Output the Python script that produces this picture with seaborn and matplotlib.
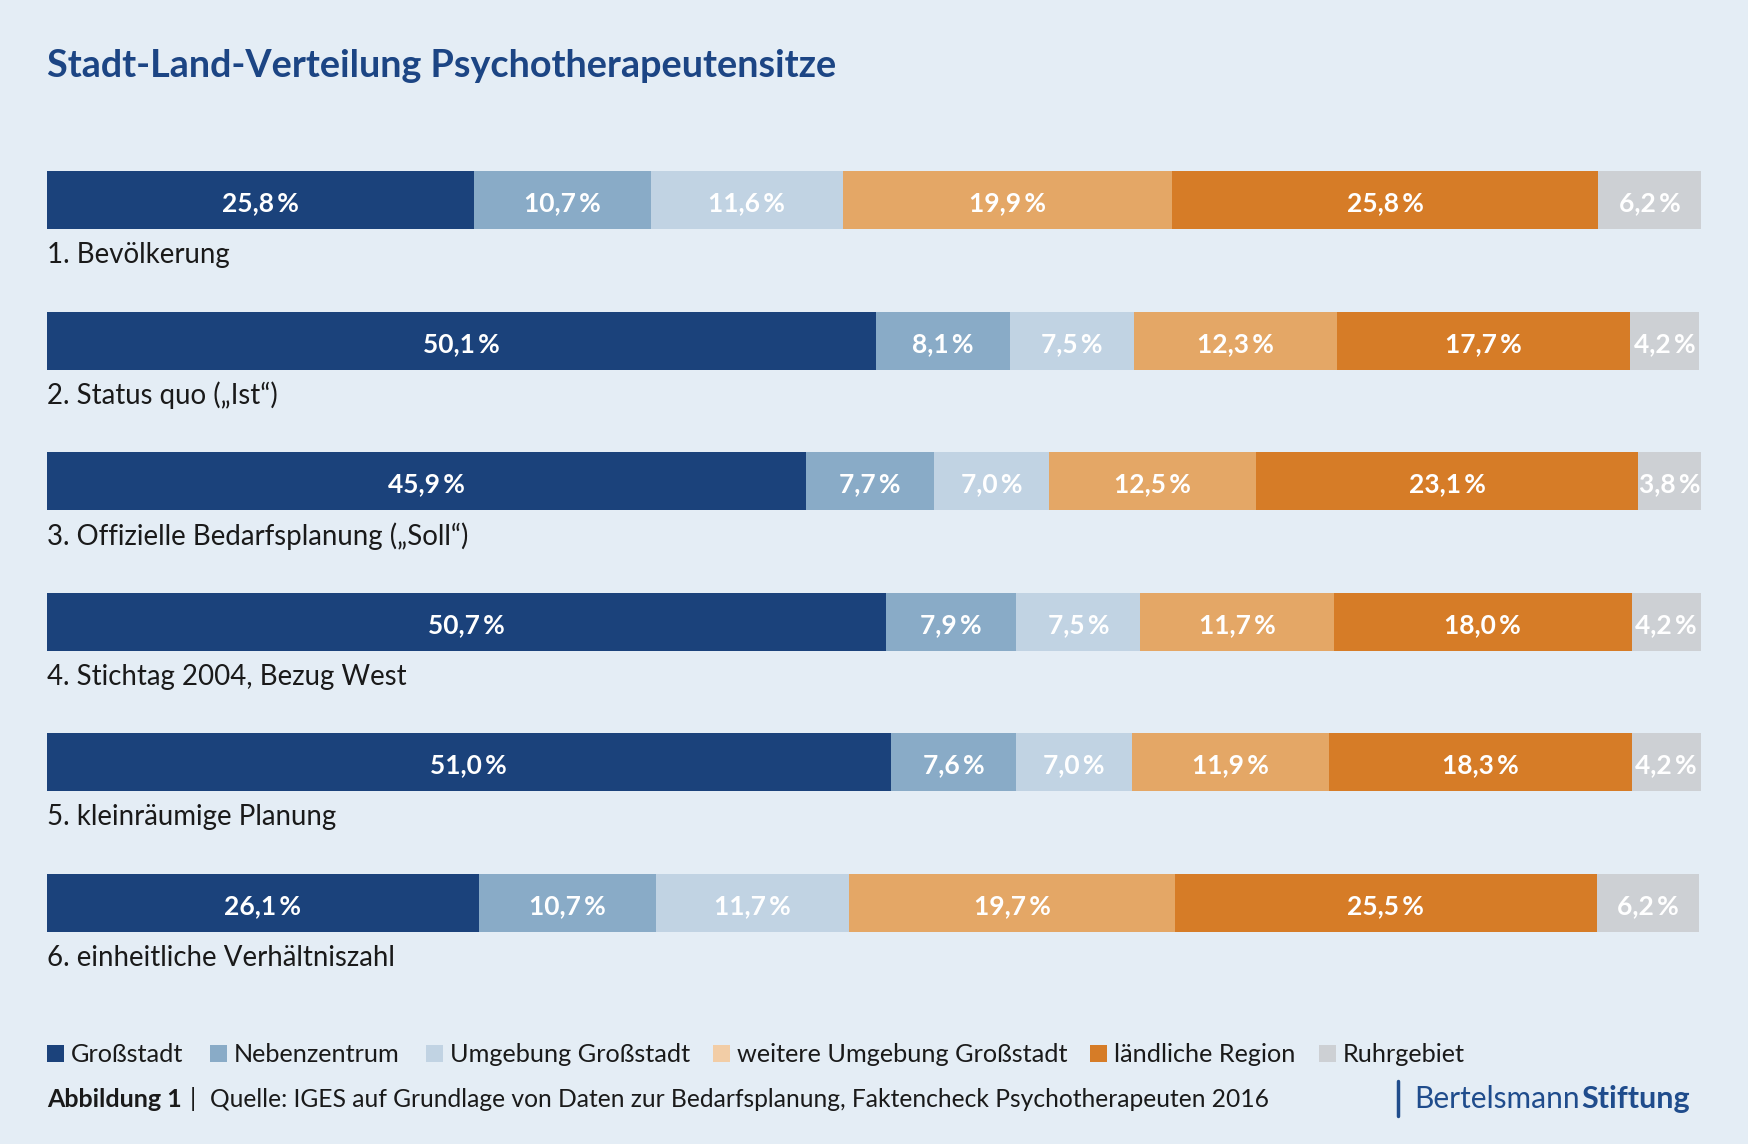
import matplotlib
matplotlib.use("Agg")
import matplotlib.pyplot as plt
from matplotlib.patches import Rectangle
from matplotlib.lines import Line2D
import numpy as np
import seaborn as sns

sns.set_style("white")
plt.rcParams['font.family'] = ['Lato', 'DejaVu Sans']

# ---------------- data ----------------
scenarios = [
    "1. Bevölkerung",
    "2. Status quo (\u201eIst\u201c)",
    "3. Offizielle Bedarfsplanung (\u201eSoll\u201c)",
    "4. Stichtag 2004, Bezug West",
    "5. kleinräumige Planung",
    "6. einheitliche Verhältniszahl",
]
regions = ["Großstadt", "Nebenzentrum", "Umgebung Großstadt",
           "weitere Umgebung Großstadt", "ländliche Region", "Ruhrgebiet"]

grossstadt   = [25.8, 50.1, 45.9, 50.7, 51.0, 26.1]
nebenzentrum = [10.7, 8.1, 7.7, 7.9, 7.6, 10.7]
umgebung     = [11.6, 7.5, 7.0, 7.5, 7.0, 11.7]
weitere      = [19.9, 12.3, 12.5, 11.7, 11.9, 19.7]
laendlich    = [25.8, 17.7, 23.1, 18.0, 18.3, 25.5]
ruhrgebiet   = [6.2, 4.2, 3.8, 4.2, 4.2, 6.2]

series = [grossstadt, nebenzentrum, umgebung, weitere, laendlich, ruhrgebiet]

# ---------------- style ----------------
BG = "#e4edf5"
bar_colors = ["#1b427b", "#89abc7", "#c1d3e3", "#e4a766", "#d67c27", "#cdd0d4"]
legend_colors = ["#1b427b", "#89abc7", "#c1d3e3", "#f2cda6", "#d67c27", "#cdd0d4"]
TITLE_C = "#1c4584"
TEXT_C = "#1a1a1a"
LOGO_C = "#1f4c8c"

W, H = 1749, 1144
fig = plt.figure(figsize=(W / 100, H / 100), dpi=100, facecolor=BG)

# axes: rows centred at 200 + 140.5*i px from top
row_gap = 140.5
top_px = 200 - row_gap / 2
bot_px = 200 + 5 * row_gap + row_gap / 2
ax = fig.add_axes([47 / W, 1 - bot_px / H, (1701 - 47) / W, (bot_px - top_px) / H])
ax.set_facecolor(BG)

vals = np.array(series)           # shape (6 regions, 6 scenarios)
cum = np.cumsum(vals, axis=0)

bar_w = 58 / row_gap
# draw cumulative layers from the outermost to the innermost (stacked look)
for k in range(len(regions) - 1, -1, -1):
    sns.barplot(x=list(cum[k]), y=scenarios, orient="h", color=bar_colors[k],
                saturation=1, width=bar_w, linewidth=0, edgecolor="none", ax=ax)

ax.set_xlim(0, 100)
ax.set_ylim(5.5, -0.5)
ax.set_axis_off()

# value labels
for k in range(len(regions)):
    for i in range(len(scenarios)):
        left = cum[k][i] - vals[k][i]
        xc = left + vals[k][i] / 2
        label = f"{vals[k][i]:.1f}".replace(".", ",") + "\u2009%"
        ax.text(xc, i + 11.5 / row_gap, label, ha="center", va="baseline",
                color="white", fontsize=19, fontweight="bold")

# scenario labels under the bars
for i, s in enumerate(scenarios):
    ax.text(0, i + 63.5 / row_gap, s, ha="left", va="baseline",
            color=TEXT_C, fontsize=19.9)

# title
fig.text(47 / W, 1 - 77 / H, "Stadt-Land-Verteilung Psychotherapeutensitze",
         ha="left", va="baseline", fontsize=27.2, fontweight="bold", color=TITLE_C)

# legend (manual)
sq_x = [47, 210, 426, 713, 1090, 1319]
sq = 17
leg_base = 1062
for x0, name, c in zip(sq_x, regions, legend_colors):
    fig.patches.append(Rectangle((x0 / W, 1 - leg_base / H), sq / W, sq / H,
                                 transform=fig.transFigure, facecolor=c,
                                 edgecolor="none"))
    fig.text((x0 + 24) / W, 1 - leg_base / H, name, ha="left", va="baseline",
             fontsize=18.2, color=TEXT_C)

# footer
foot_base = 1107
fig.text(47 / W, 1 - foot_base / H, "Abbildung 1", ha="left", va="baseline",
         fontsize=18, fontweight="bold", color=TEXT_C)
fig.text(190 / W, 1 - foot_base / H, "|", ha="left", va="baseline",
         fontsize=17.7, color=TEXT_C)
fig.text(210 / W, 1 - foot_base / H,
         "Quelle: IGES auf Grundlage von Daten zur Bedarfsplanung, Faktencheck Psychotherapeuten 2016",
         ha="left", va="baseline", fontsize=17.7, color=TEXT_C)

# logo
fig.lines.append(Line2D([1398 / W, 1398 / W], [1 - 1116 / H, 1 - 1081 / H],
                        transform=fig.transFigure, color=LOGO_C, linewidth=2.5))
t1 = fig.text(1414 / W, 1 - 1108 / H, "Bertelsmann", ha="left", va="baseline",
              fontsize=21.5, color=LOGO_C)
fig.canvas.draw()
bb = t1.get_window_extent()
fig.text((bb.x1 + 2) / W, 1 - 1108 / H, "Stiftung", ha="left", va="baseline",
         fontsize=22, fontweight="bold", color=LOGO_C)

fig.savefig("out.png", dpi=100, facecolor=BG)
